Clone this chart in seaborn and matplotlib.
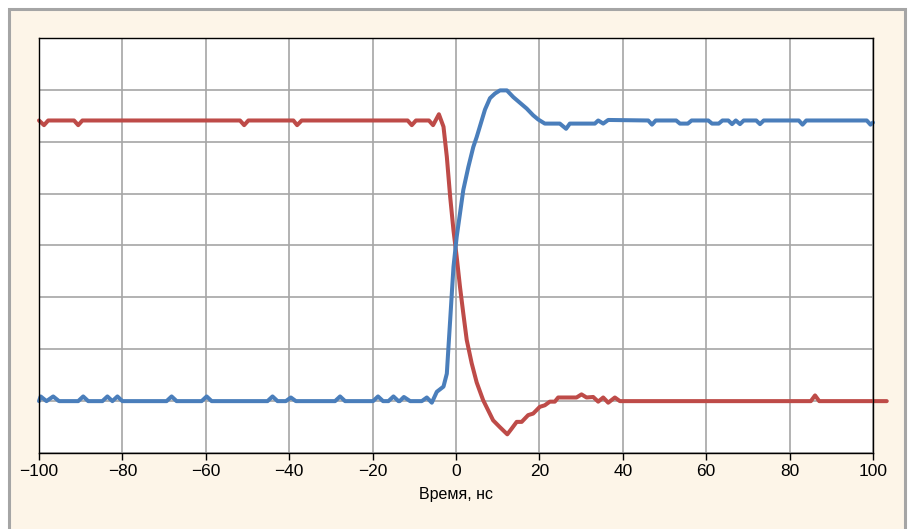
import matplotlib
matplotlib.use("Agg")
import matplotlib.pyplot as plt
import matplotlib.patches as mpatches
import seaborn as sns

# Digitized signals (time in ns, level in grid units)
blue_t = [-100, -99.6, -98.2, -96.6, -95.2, -90.6, -89.4, -88.2, -84.8, -83.6, -82.4, -81.2, -80.0,
          -69.4, -68.2, -67.0, -61.0, -59.8, -58.6, -45.2, -44.0, -42.8, -40.8, -39.6, -38.4,
          -29.0, -27.8, -26.6, -19.9, -18.7, -17.5, -16.2, -15.0, -13.8, -13.5, -12.5, -11.0,
          -8.2, -7.0, -5.8, -4.6, -3.0, -2.2, -1.8, -1.4, -1.0, -0.6, 0.17, 0.96, 1.75, 2.95,
          4.15, 4.96, 5.75, 6.95, 8.15, 9.35, 10.55, 12.2, 13.75, 15.35, 16.95, 18.5, 19.7, 21.3,
          24.9, 26.4, 27.3, 33.3, 34.1, 35.3, 36.5, 46.1, 47.0, 47.9, 52.8, 53.7, 55.6, 56.5,
          60.5, 61.4, 63.0, 63.9, 65.3, 66.2, 67.1, 68.1, 69.0, 72.0, 72.9, 73.8, 82.2, 83.1,
          84.0, 98.5, 99.4, 100]
blue_v = [0.0, 0.09, 0.0, 0.09, 0.0, 0.0, 0.09, 0.0, 0.0, 0.09, 0.0, 0.09, 0.0,
          0.0, 0.09, 0.0, 0.0, 0.09, 0.0, 0.0, 0.09, 0.0, 0.0, 0.07, 0.0,
          0.0, 0.09, 0.0, 0.0, 0.09, 0.0, 0.0, 0.09, 0.0, 0.0, 0.08, 0.0,
          0.0, 0.07, -0.03, 0.18, 0.28, 0.53, 1.05, 1.56, 2.08, 2.59, 3.17, 3.62, 4.07, 4.51,
          4.90, 5.09, 5.30, 5.62, 5.84, 5.93, 5.99, 5.99, 5.86, 5.75, 5.64, 5.51, 5.43, 5.35,
          5.35, 5.25, 5.35, 5.35, 5.41, 5.35, 5.42, 5.41, 5.33, 5.41, 5.41, 5.35, 5.35, 5.41,
          5.41, 5.35, 5.35, 5.41, 5.41, 5.34, 5.41, 5.34, 5.41, 5.41, 5.34, 5.41, 5.41, 5.33,
          5.41, 5.41, 5.33, 5.37]

red_t = [-100, -98.8, -97.8, -91.6, -90.6, -89.6, -51.8, -50.8, -49.8, -39.0, -38.1, -37.0,
         -11.6, -10.6, -9.6, -6.5, -5.5, -4.1, -3.0, -2.2, -1.4, -0.6, 0.17, 0.96, 1.75, 2.57,
         3.76, 4.96, 6.5, 8.9, 10.5, 12.3, 13.35, 14.55, 15.75, 17.3, 18.5, 20.1, 21.3, 22.5,
         23.7, 24.5, 28.9, 30.1, 31.3, 32.9, 34.1, 35.3, 36.5, 38.1, 39.3, 85.1, 86.1, 87.1, 103.3]
red_v = [5.41, 5.32, 5.41, 5.41, 5.32, 5.41, 5.41, 5.32, 5.41, 5.41, 5.32, 5.41,
         5.41, 5.32, 5.41, 5.41, 5.32, 5.53, 5.29, 4.71, 3.94, 3.29, 2.78, 2.20, 1.69, 1.18,
         0.73, 0.36, 0.02, -0.37, -0.50, -0.64, -0.53, -0.40, -0.40, -0.27, -0.24, -0.11, -0.08, -0.01,
         -0.01, 0.07, 0.07, 0.13, 0.07, 0.08, -0.01, 0.07, -0.03, 0.07, 0.0, 0.0, 0.11, 0.0, 0.0]

x_ticks = [-100, -80, -60, -40, -20, 0, 20, 40, 60, 80, 100]
x_labels = ["\u2212100", "\u221280", "\u221260", "\u221240", "\u221220", "0", "20", "40", "60", "80", "100"]
y_grid = [-1, 0, 1, 2, 3, 4, 5, 6, 7]

sns.set_style("white")
plt.rcParams['font.family'] = ['Liberation Sans Narrow', 'Liberation Sans', 'DejaVu Sans']

fig = plt.figure(figsize=(9.12, 5.29), dpi=100)
fig.patch.set_facecolor("white")

# cream panel with gray frame
panel = mpatches.Rectangle((9 / 912, -0.05), 896 / 912, 1.05 - 9 / 529,
                           transform=fig.transFigure, facecolor="#FDF5E8",
                           edgecolor="#A5A5A5", linewidth=2.2, zorder=-5)
fig.add_artist(panel)

ax = fig.add_axes([39 / 912, 76 / 529, 834 / 912, 415 / 529])
ax.set_facecolor("white")

sns.lineplot(x=red_t, y=red_v, color="#BE4B48", linewidth=2.9, estimator=None,
             sort=False, ax=ax, clip_on=False, zorder=3,
             solid_joinstyle="round", solid_capstyle="round")
sns.lineplot(x=blue_t, y=blue_v, color="#4A7EBB", linewidth=2.9, estimator=None,
             sort=False, ax=ax, clip_on=False, zorder=4,
             solid_joinstyle="round", solid_capstyle="round")

ax.set_xlim(-100, 100)
ax.set_ylim(-1, 7)
ax.set_xticks(x_ticks)
ax.set_xticklabels(x_labels)
ax.set_yticks(y_grid)
ax.tick_params(axis="x", direction="out", length=5, width=1, color="black",
               labelcolor="black", pad=3, labelsize=12.5, bottom=True)
ax.tick_params(axis="y", length=0, labelleft=False)
ax.grid(True, color="#A6A6A6", linewidth=1.2)
ax.set_axisbelow(True)
for s in ax.spines.values():
    s.set_color("black")
    s.set_linewidth(1.0)
    s.set_zorder(5)

ax.set_xlabel("Время, нс", fontsize=11.5, labelpad=6, color="black")
ax.set_ylabel("")

fig.savefig("out.png", dpi=100)
